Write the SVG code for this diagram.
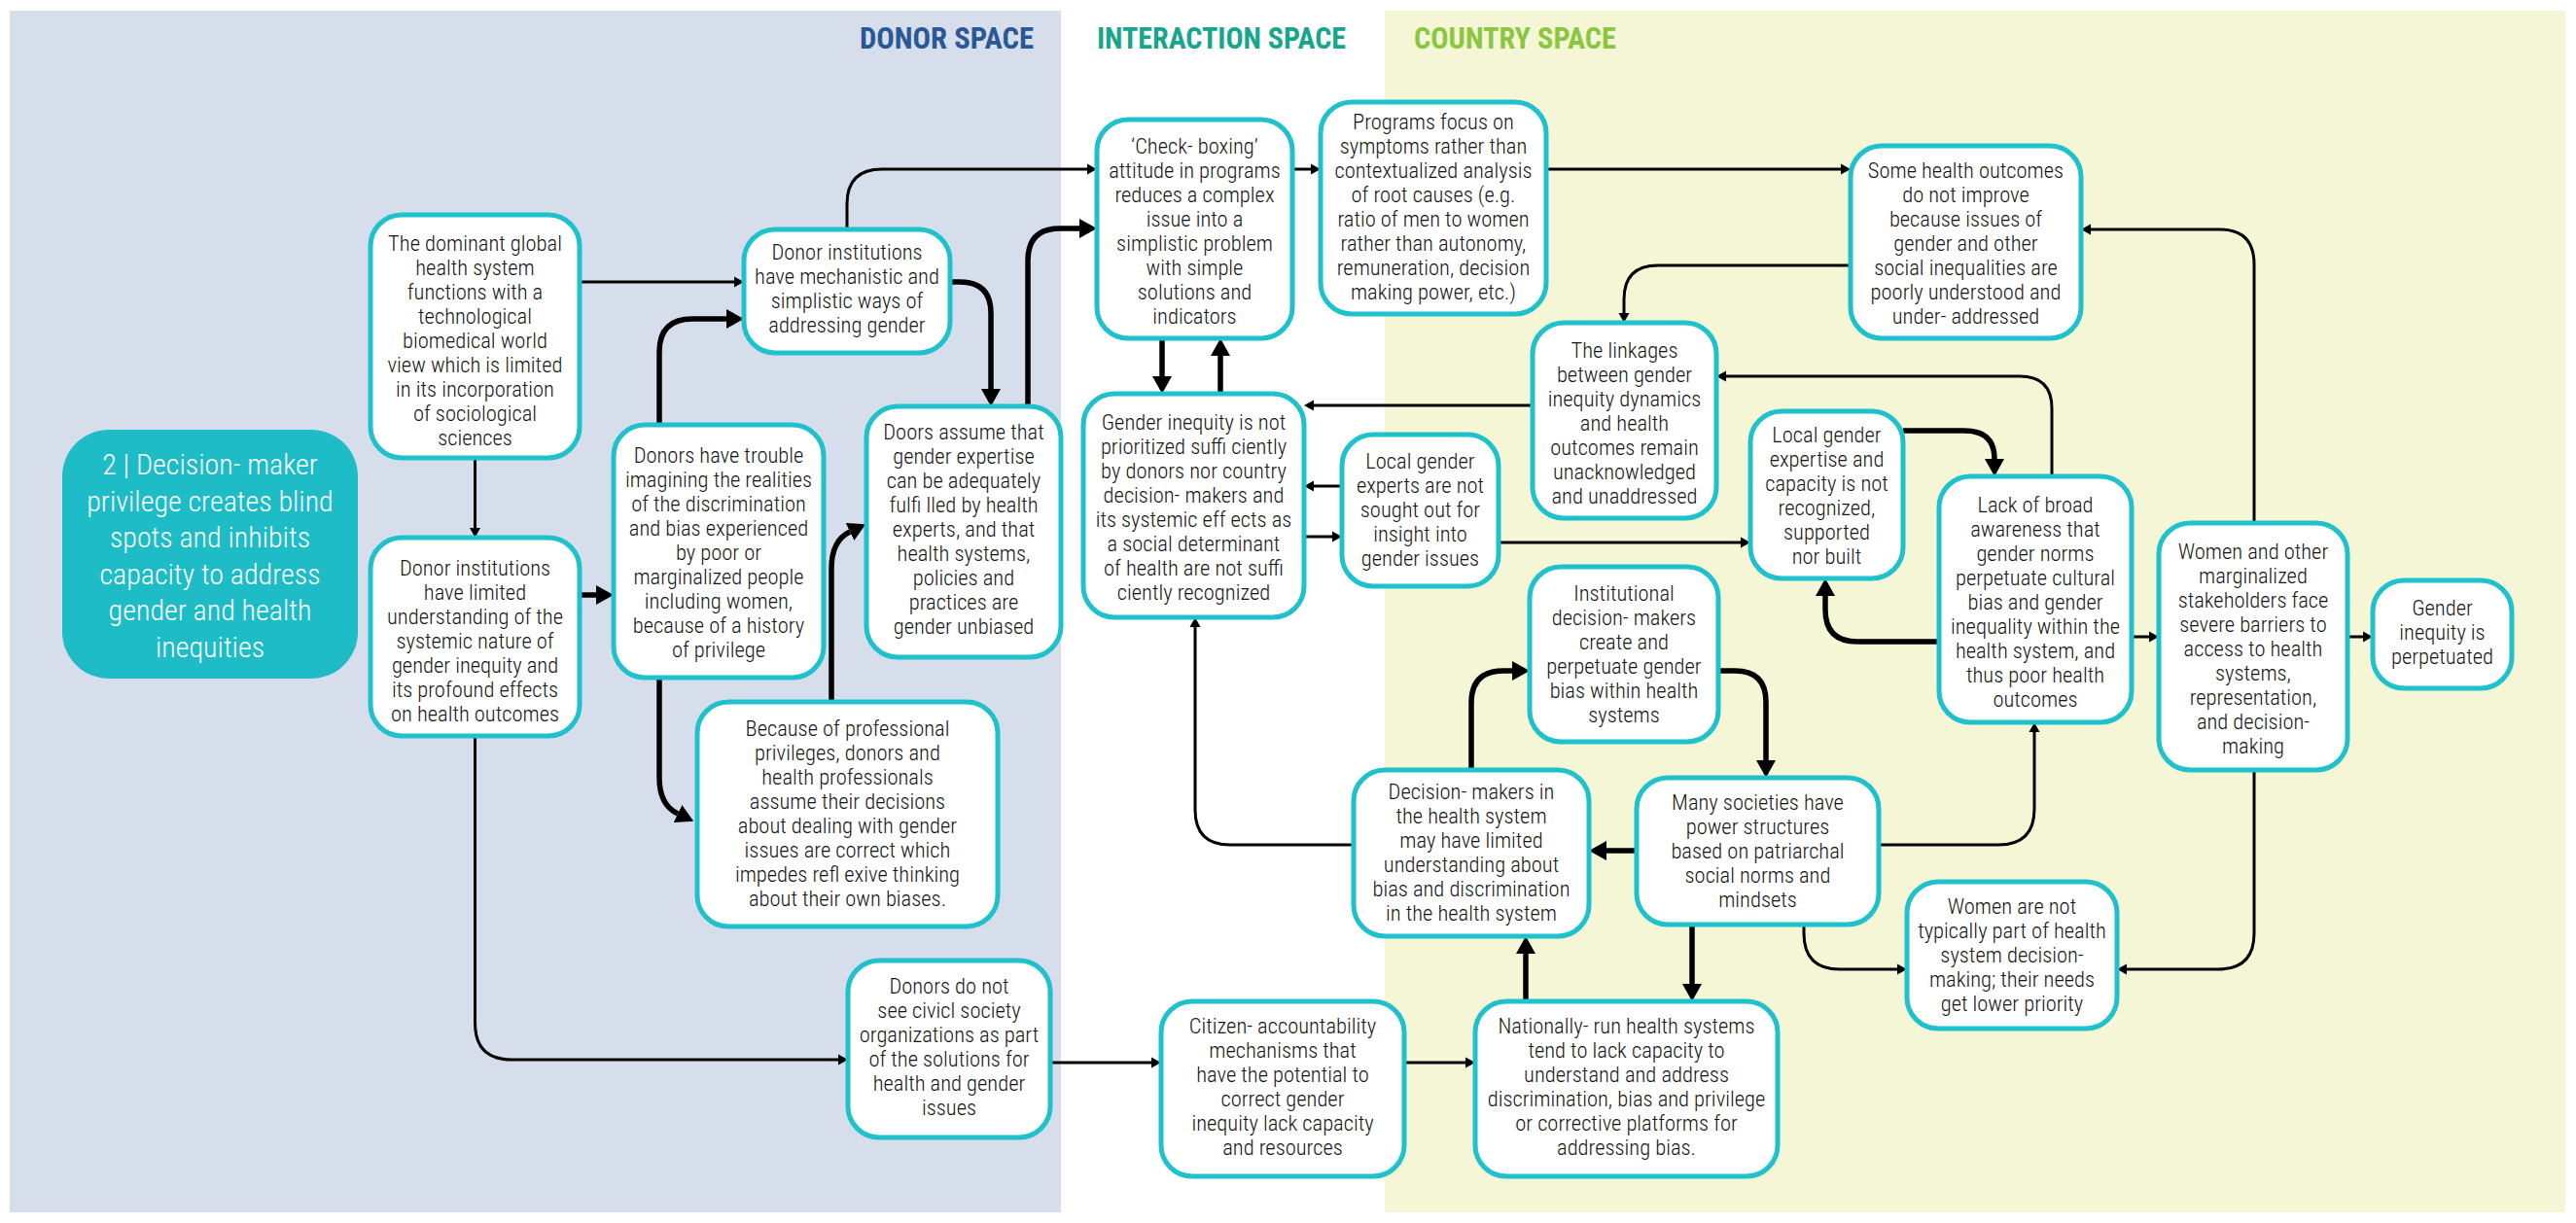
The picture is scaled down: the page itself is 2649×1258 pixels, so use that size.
<svg xmlns="http://www.w3.org/2000/svg" width="2649" height="1258" viewBox="0 0 2649 1258">
<style>
.bx{fill:#ffffff;stroke:#1fc1cc;stroke-width:5}
.t{font-family:"Liberation Sans Narrow","Arial Narrow","Roboto Condensed","DejaVu Sans Condensed",sans-serif;font-stretch:condensed;font-size:22.5px;font-weight:300;fill:#141414;text-anchor:middle}
.tt{font-family:"Liberation Sans Narrow","Arial Narrow","Roboto Condensed","DejaVu Sans Condensed",sans-serif;font-stretch:condensed;font-size:30px;font-weight:300;fill:#ffffff;text-anchor:middle}
.h{font-family:"Liberation Sans Narrow","Arial Narrow","Roboto Condensed","DejaVu Sans Condensed",sans-serif;font-stretch:condensed;font-size:32px;font-weight:bold}
.c1{fill:none;stroke:#000;stroke-width:3;marker-end:url(#a1)}
.c2{fill:none;stroke:#000;stroke-width:5.5;marker-end:url(#a2)}
</style>
<defs>
<marker id="a1" viewBox="0 -6 10 12" markerWidth="10" markerHeight="12" refX="0" refY="0" orient="auto" markerUnits="userSpaceOnUse"><path d="M0,-5.5 L10,0 L0,5.5 z" fill="#000"/></marker>
<marker id="a2" viewBox="0 -10 18 20" markerWidth="18" markerHeight="20" refX="0" refY="0" orient="auto" markerUnits="userSpaceOnUse"><path d="M0,-10 L18,0 L0,10 z" fill="#000"/></marker>
</defs>
<rect x="0" y="0" width="2649" height="1258" fill="#ffffff"/>
<rect x="10" y="11" width="1081" height="1236" fill="#d5deea"/>
<rect x="1424" y="11" width="1214" height="1236" fill="#f4f6d5"/>
<g id="headers">
<text class="h" x="884" y="50" fill="#2a5896" textLength="179" lengthAdjust="spacingAndGlyphs">DONOR SPACE</text>
<text class="h" x="1128" y="50" fill="#17a58c" textLength="256" lengthAdjust="spacingAndGlyphs">INTERACTION SPACE</text>
<text class="h" x="1454" y="50" fill="#8cc641" textLength="208" lengthAdjust="spacingAndGlyphs">COUNTRY SPACE</text>
</g>
<g id="connectors">
<path class="c1" d="M596,290 H755"/>
<path class="c1" d="M488.5,471 V543"/>
<path class="c1" d="M488.5,757 V1052 Q488.5,1090 526,1090 H862"/>
<path class="c1" d="M871,236 V210 Q871,174 907,174 H1118"/>
<path class="c1" d="M1329,174 H1348"/>
<path class="c1" d="M1590,174 H1893"/>
<path class="c1" d="M1903,273 H1705 Q1670,273 1670,308 V322"/>
<path class="c1" d="M2318,538 V272 Q2318,236 2282,236 H2150"/>
<path class="c1" d="M2110,490 V420 Q2110,387 2077,387 H1775"/>
<path class="c1" d="M1576,417 H1351"/>
<path class="c1" d="M1380,500 H1351"/>
<path class="c1" d="M1341,552 H1370"/>
<path class="c1" d="M1541,558 H1790"/>
<path class="c1" d="M2192,655 H2210"/>
<path class="c1" d="M2414,655 H2430"/>
<path class="c1" d="M2318,792 V960 Q2318,997 2281,997 H2187"/>
<path class="c1" d="M1855,951 V960 Q1855,997 1892,997 H1951"/>
<path class="c1" d="M1932,869 H2055 Q2092,869 2092,832 V753"/>
<path class="c1" d="M1392,869 H1265 Q1229,869 1229,833 V645"/>
<path class="c1" d="M1080,1093 H1184"/>
<path class="c1" d="M1444,1093 H1507"/>
<path class="c2" d="M596,612 H613"/>
<path class="c2" d="M678,437 V362 Q678,328 712,328 H747"/>
<path class="c2" d="M678,697 V800 Q678,828 697,837"/>
<path class="c2" d="M855,722 V585 Q855,556 874,547"/>
<path class="c2" d="M977,290 H987 Q1019,290 1019,322 V400"/>
<path class="c2" d="M1057,418 V268 Q1057,235 1090,235 H1110"/>
<path class="c2" d="M1195,348 V387"/>
<path class="c2" d="M1255,405 V366"/>
<path class="c2" d="M1957,443 H2020 Q2051,443 2051,472"/>
<path class="c2" d="M1994,660 H1910 Q1877,660 1877,627 V613"/>
<path class="c2" d="M1683,875 H1652"/>
<path class="c2" d="M1740,951 V1012"/>
<path class="c2" d="M1569,1030 V981"/>
<path class="c2" d="M1513,792 V723 Q1513,690 1546,690 H1555"/>
<path class="c2" d="M1767,690 H1784 Q1816,690 1816,722 V782"/>
</g>
<g id="n0"><rect x="64" y="442" width="304" height="256" rx="48" fill="#1dbcc7"/>
<text class="tt"><tspan x="216" y="488">2 | Decision- maker</tspan><tspan x="216" y="525.5">privilege creates blind</tspan><tspan x="216" y="563">spots and inhibits</tspan><tspan x="216" y="600.5">capacity to address</tspan><tspan x="216" y="638">gender and health</tspan><tspan x="216" y="675.5">inequities</tspan></text></g>
<g id="n1"><rect class="bx" x="381" y="221" width="215" height="250" rx="32"/>
<text class="t"><tspan x="488.5" y="258">The dominant global</tspan><tspan x="488.5" y="283">health system</tspan><tspan x="488.5" y="308">functions with a</tspan><tspan x="488.5" y="333">technological</tspan><tspan x="488.5" y="358">biomedical world</tspan><tspan x="488.5" y="383">view which is limited</tspan><tspan x="488.5" y="408">in its incorporation</tspan><tspan x="488.5" y="433">of sociological</tspan><tspan x="488.5" y="458">sciences</tspan></text></g>
<g id="n2"><rect class="bx" x="381" y="553" width="215" height="204" rx="32"/>
<text class="t"><tspan x="488.5" y="592">Donor institutions</tspan><tspan x="488.5" y="617">have limited</tspan><tspan x="488.5" y="642">understanding of the</tspan><tspan x="488.5" y="667">systemic nature of</tspan><tspan x="488.5" y="692">gender inequity and</tspan><tspan x="488.5" y="717">its profound effects</tspan><tspan x="488.5" y="742">on health outcomes</tspan></text></g>
<g id="n3"><rect class="bx" x="631" y="437" width="216" height="260" rx="32"/>
<text class="t"><tspan x="739" y="476">Donors have trouble</tspan><tspan x="739" y="501">imagining the realities</tspan><tspan x="739" y="526">of the discrimination</tspan><tspan x="739" y="551">and bias experienced</tspan><tspan x="739" y="576">by poor or</tspan><tspan x="739" y="601">marginalized people</tspan><tspan x="739" y="626">including women,</tspan><tspan x="739" y="651">because of a history</tspan><tspan x="739" y="676">of privilege</tspan></text></g>
<g id="n4"><rect class="bx" x="765" y="236" width="212" height="127" rx="32"/>
<text class="t"><tspan x="871" y="267">Donor institutions</tspan><tspan x="871" y="292">have mechanistic and</tspan><tspan x="871" y="317">simplistic ways of</tspan><tspan x="871" y="342">addressing gender</tspan></text></g>
<g id="n5"><rect class="bx" x="891" y="418" width="200" height="258" rx="32"/>
<text class="t"><tspan x="991" y="452">Doors assume that</tspan><tspan x="991" y="477">gender expertise</tspan><tspan x="991" y="502">can be adequately</tspan><tspan x="991" y="527">fulfi lled by health</tspan><tspan x="991" y="552">experts, and that</tspan><tspan x="991" y="577">health systems,</tspan><tspan x="991" y="602">policies and</tspan><tspan x="991" y="627">practices are</tspan><tspan x="991" y="652">gender unbiased</tspan></text></g>
<g id="n6"><rect class="bx" x="717" y="722" width="309" height="231" rx="32"/>
<text class="t"><tspan x="871.5" y="757">Because of professional</tspan><tspan x="871.5" y="782">privileges, donors and</tspan><tspan x="871.5" y="807">health professionals</tspan><tspan x="871.5" y="832">assume their decisions</tspan><tspan x="871.5" y="857">about dealing with gender</tspan><tspan x="871.5" y="882">issues are correct which</tspan><tspan x="871.5" y="907">impedes refl exive thinking</tspan><tspan x="871.5" y="932">about their own biases.</tspan></text></g>
<g id="n7"><rect class="bx" x="872" y="988" width="208" height="182" rx="32"/>
<text class="t"><tspan x="976" y="1022">Donors do not</tspan><tspan x="976" y="1047">see civicl society</tspan><tspan x="976" y="1072">organizations as part</tspan><tspan x="976" y="1097">of the solutions for</tspan><tspan x="976" y="1122">health and gender</tspan><tspan x="976" y="1147">issues</tspan></text></g>
<g id="n8"><rect class="bx" x="1128" y="123" width="201" height="225" rx="32"/>
<text class="t"><tspan x="1228.5" y="158">‘Check- boxing’</tspan><tspan x="1228.5" y="183">attitude in programs</tspan><tspan x="1228.5" y="208">reduces a complex</tspan><tspan x="1228.5" y="233">issue into a</tspan><tspan x="1228.5" y="258">simplistic problem</tspan><tspan x="1228.5" y="283">with simple</tspan><tspan x="1228.5" y="308">solutions and</tspan><tspan x="1228.5" y="333">indicators</tspan></text></g>
<g id="n9"><rect class="bx" x="1358" y="105" width="232" height="218" rx="32"/>
<text class="t"><tspan x="1474" y="133">Programs focus on</tspan><tspan x="1474" y="158">symptoms rather than</tspan><tspan x="1474" y="183">contextualized analysis</tspan><tspan x="1474" y="208">of root causes (e.g.</tspan><tspan x="1474" y="233">ratio of men to women</tspan><tspan x="1474" y="258">rather than autonomy,</tspan><tspan x="1474" y="283">remuneration, decision</tspan><tspan x="1474" y="308">making power, etc.)</tspan></text></g>
<g id="n10"><rect class="bx" x="1903" y="150" width="237" height="198" rx="32"/>
<text class="t"><tspan x="2021.5" y="183">Some health outcomes</tspan><tspan x="2021.5" y="208">do not improve</tspan><tspan x="2021.5" y="233">because issues of</tspan><tspan x="2021.5" y="258">gender and other</tspan><tspan x="2021.5" y="283">social inequalities are</tspan><tspan x="2021.5" y="308">poorly understood and</tspan><tspan x="2021.5" y="333">under- addressed</tspan></text></g>
<g id="n11"><rect class="bx" x="1576" y="332" width="189" height="201" rx="32"/>
<text class="t"><tspan x="1670.5" y="368">The linkages</tspan><tspan x="1670.5" y="393">between gender</tspan><tspan x="1670.5" y="418">inequity dynamics</tspan><tspan x="1670.5" y="443">and health</tspan><tspan x="1670.5" y="468">outcomes remain</tspan><tspan x="1670.5" y="493">unacknowledged</tspan><tspan x="1670.5" y="518">and unaddressed</tspan></text></g>
<g id="n12"><rect class="bx" x="1114" y="405" width="227" height="230" rx="32"/>
<text class="t"><tspan x="1227.5" y="442">Gender inequity is not</tspan><tspan x="1227.5" y="467">prioritized suffi ciently</tspan><tspan x="1227.5" y="492">by donors nor country</tspan><tspan x="1227.5" y="517">decision- makers and</tspan><tspan x="1227.5" y="542">its systemic eff ects as</tspan><tspan x="1227.5" y="567">a social determinant</tspan><tspan x="1227.5" y="592">of health are not suffi</tspan><tspan x="1227.5" y="617">ciently recognized</tspan></text></g>
<g id="n13"><rect class="bx" x="1380" y="447" width="161" height="156" rx="32"/>
<text class="t"><tspan x="1460.5" y="482">Local gender</tspan><tspan x="1460.5" y="507">experts are not</tspan><tspan x="1460.5" y="532">sought out for</tspan><tspan x="1460.5" y="557">insight into</tspan><tspan x="1460.5" y="582">gender issues</tspan></text></g>
<g id="n14"><rect class="bx" x="1800" y="423" width="157" height="172" rx="32"/>
<text class="t"><tspan x="1878.5" y="455">Local gender</tspan><tspan x="1878.5" y="480">expertise and</tspan><tspan x="1878.5" y="505">capacity is not</tspan><tspan x="1878.5" y="530">recognized,</tspan><tspan x="1878.5" y="555">supported</tspan><tspan x="1878.5" y="580">nor built</tspan></text></g>
<g id="n15"><rect class="bx" x="1994" y="490" width="198" height="253" rx="32"/>
<text class="t"><tspan x="2093" y="527">Lack of broad</tspan><tspan x="2093" y="552">awareness that</tspan><tspan x="2093" y="577">gender norms</tspan><tspan x="2093" y="602">perpetuate cultural</tspan><tspan x="2093" y="627">bias and gender</tspan><tspan x="2093" y="652">inequality within the</tspan><tspan x="2093" y="677">health system, and</tspan><tspan x="2093" y="702">thus poor health</tspan><tspan x="2093" y="727">outcomes</tspan></text></g>
<g id="n16"><rect class="bx" x="2220" y="538" width="194" height="254" rx="32"/>
<text class="t"><tspan x="2317" y="575">Women and other</tspan><tspan x="2317" y="600">marginalized</tspan><tspan x="2317" y="625">stakeholders face</tspan><tspan x="2317" y="650">severe barriers to</tspan><tspan x="2317" y="675">access to health</tspan><tspan x="2317" y="700">systems,</tspan><tspan x="2317" y="725">representation,</tspan><tspan x="2317" y="750">and decision-</tspan><tspan x="2317" y="775">making</tspan></text></g>
<g id="n17"><rect class="bx" x="2440" y="597" width="143" height="111" rx="32"/>
<text class="t"><tspan x="2511.5" y="633">Gender</tspan><tspan x="2511.5" y="658">inequity is</tspan><tspan x="2511.5" y="683">perpetuated</tspan></text></g>
<g id="n18"><rect class="bx" x="1573" y="583" width="194" height="180" rx="32"/>
<text class="t"><tspan x="1670" y="618">Institutional</tspan><tspan x="1670" y="643">decision- makers</tspan><tspan x="1670" y="668">create and</tspan><tspan x="1670" y="693">perpetuate gender</tspan><tspan x="1670" y="718">bias within health</tspan><tspan x="1670" y="743">systems</tspan></text></g>
<g id="n19"><rect class="bx" x="1392" y="792" width="242" height="171" rx="32"/>
<text class="t"><tspan x="1513" y="822">Decision- makers in</tspan><tspan x="1513" y="847">the health system</tspan><tspan x="1513" y="872">may have limited</tspan><tspan x="1513" y="897">understanding about</tspan><tspan x="1513" y="922">bias and discrimination</tspan><tspan x="1513" y="947">in the health system</tspan></text></g>
<g id="n20"><rect class="bx" x="1683" y="800" width="249" height="151" rx="32"/>
<text class="t"><tspan x="1807.5" y="833">Many societies have</tspan><tspan x="1807.5" y="858">power structures</tspan><tspan x="1807.5" y="883">based on patriarchal</tspan><tspan x="1807.5" y="908">social norms and</tspan><tspan x="1807.5" y="933">mindsets</tspan></text></g>
<g id="n21"><rect class="bx" x="1961" y="907" width="216" height="151" rx="32"/>
<text class="t"><tspan x="2069" y="940">Women are not</tspan><tspan x="2069" y="965">typically part of health</tspan><tspan x="2069" y="990">system decision-</tspan><tspan x="2069" y="1015">making; their needs</tspan><tspan x="2069" y="1040">get lower priority</tspan></text></g>
<g id="n22"><rect class="bx" x="1194" y="1030" width="250" height="180" rx="32"/>
<text class="t"><tspan x="1319" y="1063">Citizen- accountability</tspan><tspan x="1319" y="1088">mechanisms that</tspan><tspan x="1319" y="1113">have the potential to</tspan><tspan x="1319" y="1138">correct gender</tspan><tspan x="1319" y="1163">inequity lack capacity</tspan><tspan x="1319" y="1188">and resources</tspan></text></g>
<g id="n23"><rect class="bx" x="1517" y="1030" width="311" height="180" rx="32"/>
<text class="t"><tspan x="1672.5" y="1063">Nationally- run health systems</tspan><tspan x="1672.5" y="1088">tend to lack capacity to</tspan><tspan x="1672.5" y="1113">understand and address</tspan><tspan x="1672.5" y="1138">discrimination, bias and privilege</tspan><tspan x="1672.5" y="1163">or corrective platforms for</tspan><tspan x="1672.5" y="1188">addressing bias.</tspan></text></g>
</svg>
